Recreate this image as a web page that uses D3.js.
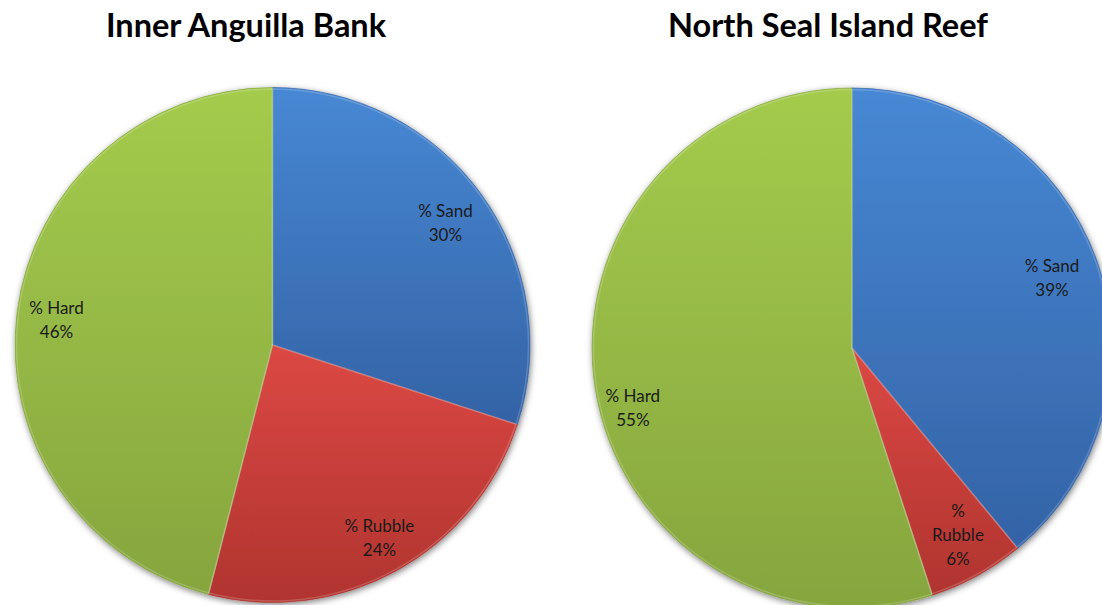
<!DOCTYPE html>
<html>
<head>
<meta charset="utf-8">
<script src="https://cdn.jsdelivr.net/npm/d3@7"></script>
<style>
  html, body { margin: 0; padding: 0; background: #fff; }
  svg { display: block; }
</style>
</head>
<body>
<svg id="chart" width="1102" height="605"></svg>
<script>
const categories = ["% Sand", "% Rubble", "% Hard"];
const chartTitles = ["Inner Anguilla Bank", "North Seal Island Reef"];
const innerAnguillaValues = [30, 24, 46];
const northSealValues = [39, 6, 55];

const colorsTop = ["#4788d4", "#dc4844", "#a4cb4c"];
const colorsBottom = ["#3463a6", "#b0342f", "#86a53e"];

const svg = d3.select("#chart");
const defs = svg.append("defs");

const filter = defs.append("filter").attr("id", "shadow")
  .attr("x", "-10%").attr("y", "-10%").attr("width", "120%").attr("height", "120%");
filter.append("feDropShadow").attr("dx", 1).attr("dy", 2).attr("stdDeviation", 3)
  .attr("flood-color", "#000").attr("flood-opacity", 0.5);

categories.forEach((c, i) => {
  const g = defs.append("linearGradient").attr("id", "grad" + i)
    .attr("x1", 0).attr("y1", 0).attr("x2", 0).attr("y2", 1);
  g.append("stop").attr("offset", "0%").attr("stop-color", colorsTop[i]);
  g.append("stop").attr("offset", "100%").attr("stop-color", colorsBottom[i]);
});

const pies = [
  { title: chartTitles[0], values: innerAnguillaValues, cx: 272.5, cy: 345, r: 257.5, tx: 246, nudge: [[0,4],[4,6],[-4,2]] },
  { title: chartTitles[1], values: northSealValues, cx: 852, cy: 348, r: 260, tx: 828, nudge: [[-3,3],[2,-2],[-6,26]] }
];

const pieGen = d3.pie().sort(null).value(d => d.value);

pies.forEach(p => {
  svg.append("text")
    .attr("x", p.tx).attr("y", 37)
    .attr("text-anchor", "middle")
    .attr("font-family", "Lato, 'Open Sans', sans-serif")
    .attr("font-weight", "bold")
    .attr("font-size", 32.5)
    .attr("fill", "#000")
    .text(p.title);

  const data = categories.map((c, i) => ({ cat: c, value: p.values[i], idx: i }));
  const arcs = pieGen(data);
  const arc = d3.arc().innerRadius(0).outerRadius(p.r);
  const labelArc = d3.arc().innerRadius(p.r * 0.83).outerRadius(p.r * 0.83);

  const g = svg.append("g").attr("transform", `translate(${p.cx},${p.cy})`);
  const slices = g.append("g").attr("filter", "url(#shadow)");
  slices.selectAll("path").data(arcs).join("path")
    .attr("d", arc)
    .attr("fill", d => `url(#grad${d.data.idx})`)
    .attr("stroke", d => colorsBottom[d.data.idx])
    .attr("stroke-opacity", 0.7)
    .attr("stroke-width", 1);
  // bevel highlight
  g.append("g").selectAll("path").data(arcs).join("path")
    .attr("d", d3.arc().innerRadius(0).outerRadius(p.r - 1.5))
    .attr("fill", "none")
    .attr("stroke", "#fff")
    .attr("stroke-opacity", 0.18)
    .attr("stroke-width", 1.5);

  const labels = g.append("g");
  arcs.forEach(d => {
    let [x, y] = labelArc.centroid(d);
    const nd = p.nudge[d.data.idx];
    x += nd[0]; y += nd[1];
    const pct = Math.round(d.data.value) + "%";
    const lines = d.data.value < 10 ? d.data.cat.split(" ").concat([pct]) : [d.data.cat, pct];
    const lh = 24;
    const t = labels.append("text")
      .attr("text-anchor", "middle")
      .attr("font-family", "Lato, 'Open Sans', sans-serif")
      .attr("font-size", 17)
      .attr("fill", "#1a1a1a");
    lines.forEach((ln, k) => {
      t.append("tspan").attr("x", x)
        .attr("y", y + (k - (lines.length - 1) / 2) * lh + 6)
        .text(ln);
    });
  });
});
</script>
</body>
</html>
